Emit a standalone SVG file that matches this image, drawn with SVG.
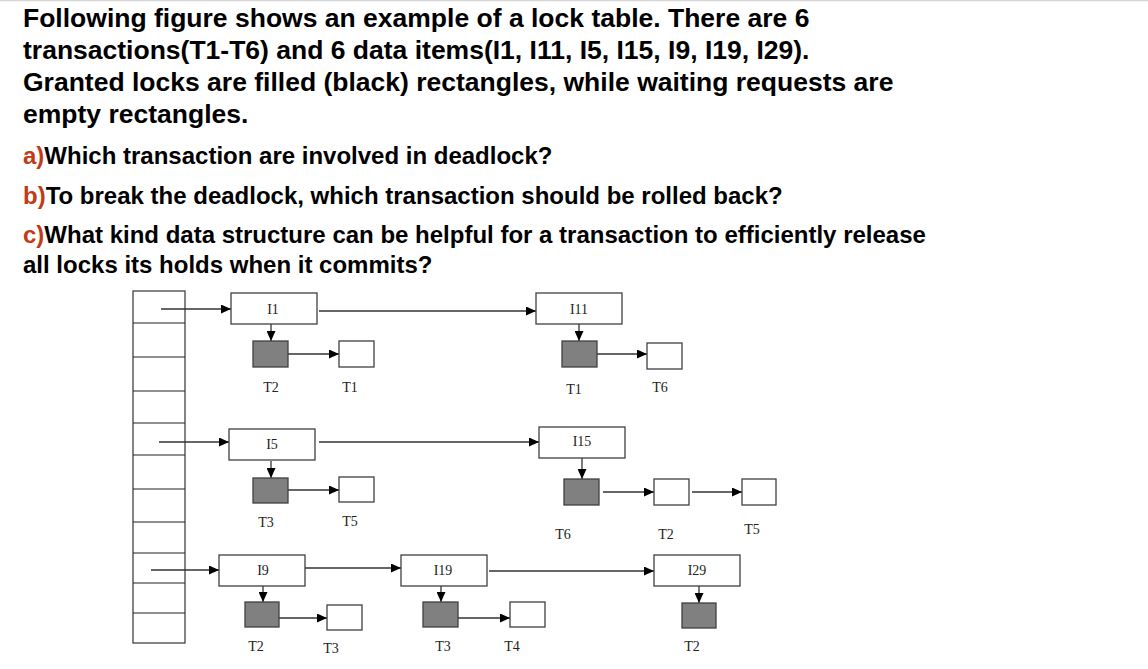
<svg xmlns="http://www.w3.org/2000/svg" width="1148" height="669" viewBox="0 0 1148 669">
<style>
.ttl{font-family:"Liberation Sans",Arial,sans-serif;font-weight:bold;font-size:26.5px;fill:#000}
.q{font-family:"Liberation Sans",Arial,sans-serif;font-weight:bold;font-size:24px;fill:#000}
.ql{fill:#c23a16}
.box{fill:#fff;stroke:#404040;stroke-width:1.3}
.held{fill:#808080;stroke:#404040;stroke-width:1.3}
.lbl{font-family:"Liberation Serif","Times New Roman",serif;font-size:14px;fill:#222;text-anchor:middle}
.cn line{stroke:#333;stroke-width:1.3;marker-end:url(#ah)}
.tbl{fill:#fff;stroke:#444;stroke-width:1.3}
.row{stroke:#222;stroke-width:1.2}
</style>
<defs>
<marker id="ah" markerUnits="userSpaceOnUse" markerWidth="10" markerHeight="9" refX="10" refY="4.5" orient="auto">
<path d="M0,0 L10,4.5 L0,9 z" fill="#000"/>
</marker>
</defs>
<rect width="1148" height="669" fill="#fff"/>
<line x1="0" y1="0.5" x2="1148" y2="0.5" stroke="#d6d6d6" stroke-width="1.5"/>
<g id="header">
<text class="ttl" x="23" y="27">Following figure shows an example of a lock table. There are 6</text>
<text class="ttl" x="23" y="59">transactions(T1-T6) and 6 data items(I1, I11, I5, I15, I9, I19, I29).</text>
<text class="ttl" x="23" y="91">Granted locks are filled (black) rectangles, while waiting requests are</text>
<text class="ttl" x="23" y="123">empty rectangles.</text>
<text class="q" x="23" y="164"><tspan class="ql">a)</tspan>Which transaction are involved in deadlock?</text>
<text class="q" x="23" y="204"><tspan class="ql">b)</tspan>To break the deadlock, which transaction should be rolled back?</text>
<text class="q" x="23" y="243"><tspan class="ql">c)</tspan>What kind data structure can be helpful for a transaction to efficiently release</text>
<text class="q" x="23" y="273">all locks its holds when it commits?</text>
</g>
<g id="lock-table">
<rect class="tbl" x="133" y="291" width="52" height="352"/>
<line class="row" x1="133" y1="323" x2="185" y2="323"/>
<line class="row" x1="133" y1="357" x2="185" y2="357"/>
<line class="row" x1="133" y1="391" x2="185" y2="391"/>
<line class="row" x1="133" y1="423" x2="185" y2="423"/>
<line class="row" x1="133" y1="455" x2="185" y2="455"/>
<line class="row" x1="133" y1="489" x2="185" y2="489"/>
<line class="row" x1="133" y1="522" x2="185" y2="522"/>
<line class="row" x1="133" y1="553" x2="185" y2="553"/>
<line class="row" x1="133" y1="583" x2="185" y2="583"/>
<line class="row" x1="133" y1="613" x2="185" y2="613"/>
</g>
<g id="connectors" class="cn">
<line x1="161" y1="309" x2="231" y2="309"/>
<line x1="159" y1="442" x2="229" y2="442"/>
<line x1="151" y1="570" x2="219" y2="570"/>
<line x1="319" y1="311" x2="536" y2="311"/>
<line x1="319" y1="442" x2="539" y2="442"/>
<line x1="305" y1="568" x2="401" y2="568"/>
<line x1="489" y1="571" x2="654" y2="571"/>
<line x1="271" y1="324" x2="271" y2="341"/>
<line x1="579" y1="324" x2="579" y2="341"/>
<line x1="271" y1="461" x2="271" y2="478"/>
<line x1="582" y1="458" x2="582" y2="479"/>
<line x1="263" y1="586" x2="263" y2="602"/>
<line x1="441" y1="586" x2="441" y2="602"/>
<line x1="699" y1="586" x2="699" y2="603"/>
<line x1="288" y1="354" x2="339" y2="354"/>
<line x1="597" y1="354" x2="647" y2="354"/>
<line x1="288" y1="490" x2="339" y2="490"/>
<line x1="603" y1="492" x2="654" y2="492"/>
<line x1="692" y1="492" x2="742" y2="492"/>
<line x1="279" y1="618" x2="327" y2="618"/>
<line x1="458" y1="618" x2="510" y2="618"/>
</g>
<g id="I1"><rect class="box" x="231" y="293" width="86" height="31"/><text class="lbl" x="273" y="314">I1</text></g>
<g id="I11"><rect class="box" x="536" y="293" width="86" height="31"/><text class="lbl" x="579" y="314">I11</text></g>
<g id="I5"><rect class="box" x="229" y="429" width="86" height="31"/><text class="lbl" x="272" y="449">I5</text></g>
<g id="I15"><rect class="box" x="539" y="427" width="86" height="31"/><text class="lbl" x="582" y="446">I15</text></g>
<g id="I9"><rect class="box" x="219" y="555" width="86" height="31"/><text class="lbl" x="263" y="575">I9</text></g>
<g id="I19"><rect class="box" x="401" y="555" width="86" height="31"/><text class="lbl" x="443" y="575">I19</text></g>
<g id="I29"><rect class="box" x="654" y="555" width="86" height="31"/><text class="lbl" x="697" y="575">I29</text></g>
<g id="I1-T2"><rect class="held" x="253" y="341" width="35" height="26"/><text class="lbl" x="271" y="392">T2</text></g>
<g id="I1-T1"><rect class="box" x="339" y="341" width="35" height="26"/><text class="lbl" x="350" y="392">T1</text></g>
<g id="I11-T1"><rect class="held" x="562" y="341" width="35" height="26"/><text class="lbl" x="574" y="394">T1</text></g>
<g id="I11-T6"><rect class="box" x="647" y="343" width="35" height="26"/><text class="lbl" x="660" y="392">T6</text></g>
<g id="I5-T3"><rect class="held" x="253" y="478" width="35" height="25"/><text class="lbl" x="266" y="527">T3</text></g>
<g id="I5-T5"><rect class="box" x="339" y="477" width="35" height="25"/><text class="lbl" x="350" y="526">T5</text></g>
<g id="I15-T6"><rect class="held" x="564" y="479" width="35" height="26"/><text class="lbl" x="563" y="539">T6</text></g>
<g id="I15-T2"><rect class="box" x="654" y="479" width="35" height="26"/><text class="lbl" x="666" y="539">T2</text></g>
<g id="I15-T5"><rect class="box" x="742" y="479" width="34" height="26"/><text class="lbl" x="752" y="534">T5</text></g>
<g id="I9-T2"><rect class="held" x="245" y="602" width="34" height="25"/><text class="lbl" x="256" y="651">T2</text></g>
<g id="I9-T3"><rect class="box" x="327" y="605" width="35" height="25"/><text class="lbl" x="331" y="653">T3</text></g>
<g id="I19-T3"><rect class="held" x="423" y="602" width="35" height="25"/><text class="lbl" x="443" y="651">T3</text></g>
<g id="I19-T4"><rect class="box" x="510" y="602" width="35" height="25"/><text class="lbl" x="512" y="651">T4</text></g>
<g id="I29-T2"><rect class="held" x="682" y="603" width="34" height="25"/><text class="lbl" x="692" y="651">T2</text></g>
</svg>
